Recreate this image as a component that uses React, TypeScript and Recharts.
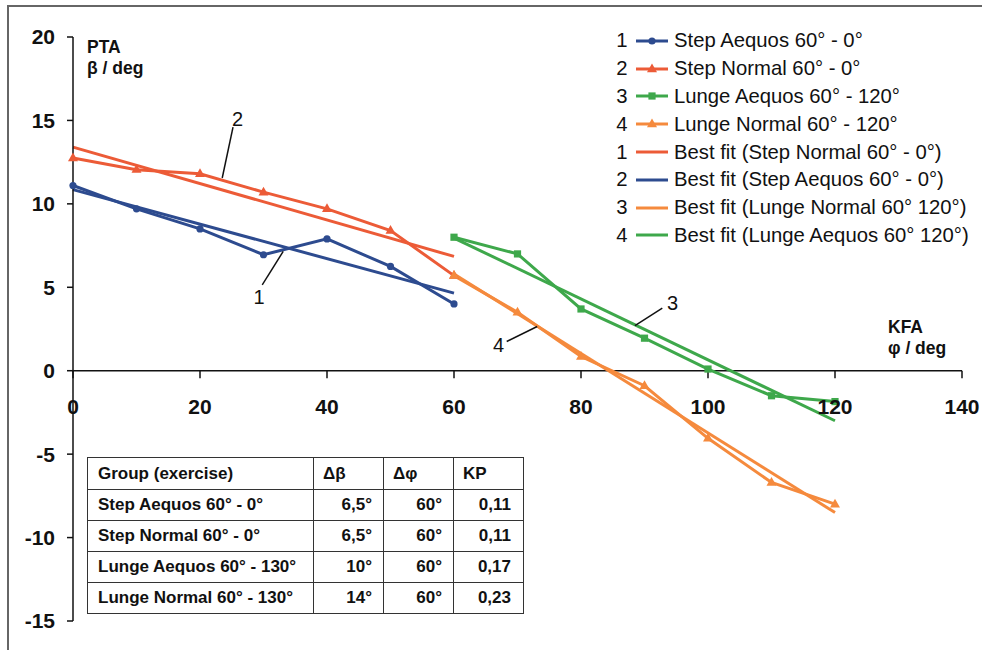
import React from 'react';
import { LineChart, Line, XAxis, YAxis, ReferenceLine, ReferenceDot } from 'recharts';

// x positions (KFA, deg)
const stepX = [0, 10, 20, 30, 40, 50, 60];
const lungeX = [60, 70, 80, 90, 100, 110, 120];

// PTA values (deg)
const stepAequos = [11.1, 9.7, 8.5, 6.95, 7.9, 6.25, 4.0];
const stepNormal = [12.75, 12.05, 11.8, 10.7, 9.7, 8.4, 5.7];
const lungeAequos = [8.0, 7.0, 3.7, 1.95, 0.1, -1.5, -1.85];
const lungeNormal = [5.7, 3.5, 0.85, -0.9, -4.05, -6.7, -8.0];

// best fit lines, end points only
const fitStepX = [0, 60];
const fitLungeX = [60, 120];
const fitStepNormal = [13.4, 6.85];
const fitStepAequos = [10.85, 4.65];
const fitLungeNormal = [5.8, -8.5];
const fitLungeAequos = [7.95, -3.0];

const xTicks = [0, 20, 40, 60, 80, 100, 120, 140];
const yTicks = [-15, -10, -5, 0, 5, 10, 15, 20];

const tableHead = ['Group (exercise)', 'Δβ', 'Δφ', 'KP'];
const tableGroups = ['Step Aequos 60° - 0°', 'Step Normal 60° - 0°', 'Lunge Aequos 60° - 130°', 'Lunge Normal 60° - 130°'];
const tableDBeta = ['6,5°', '6,5°', '10°', '14°'];
const tableDPhi = ['60°', '60°', '60°', '60°'];
const tableKP = ['0,11', '0,11', '0,17', '0,23'];

const BLUE = '#2d4b8f';
const RED = '#ec5b37';
const GREEN = '#3ea84b';
const ORANGE = '#f58a3d';

const toPts = (xs: number[], ys: number[]) => xs.map((x, i) => ({ x, y: ys[i] }));

type Shape = 'circle' | 'triangle' | 'square' | 'none';

const marker = (shape: Shape, cx: number, cy: number, color: string, key?: string | number) => {
  if (shape === 'circle') return <circle key={key} cx={cx} cy={cy} r={3.6} fill={color} />;
  if (shape === 'square') return <rect key={key} x={cx - 3.6} y={cy - 3.6} width={7.2} height={7.2} fill={color} />;
  if (shape === 'triangle')
    return <path key={key} d={`M${cx},${cy - 5.5} L${cx + 5},${cy + 3.2} L${cx - 5},${cy + 3.2} Z`} fill={color} />;
  return <g key={key} />;
};

const dotFn = (shape: Shape, color: string) => (p: any) => marker(shape, p.cx, p.cy, color, p.index);

const series = [
  { num: '1', name: 'Step Aequos 60° - 0°', data: toPts(stepX, stepAequos), color: BLUE, shape: 'circle' as Shape },
  { num: '2', name: 'Step Normal 60° - 0°', data: toPts(stepX, stepNormal), color: RED, shape: 'triangle' as Shape },
  { num: '3', name: 'Lunge Aequos 60° - 120°', data: toPts(lungeX, lungeAequos), color: GREEN, shape: 'square' as Shape },
  { num: '4', name: 'Lunge Normal 60° - 120°', data: toPts(lungeX, lungeNormal), color: ORANGE, shape: 'triangle' as Shape },
  { num: '1', name: 'Best fit (Step Normal 60° - 0°)', data: toPts(fitStepX, fitStepNormal), color: RED, shape: 'none' as Shape },
  { num: '2', name: 'Best fit (Step Aequos 60° - 0°)', data: toPts(fitStepX, fitStepAequos), color: BLUE, shape: 'none' as Shape },
  { num: '3', name: 'Best fit (Lunge Normal 60° 120°)', data: toPts(fitLungeX, fitLungeNormal), color: ORANGE, shape: 'none' as Shape },
  { num: '4', name: 'Best fit (Lunge Aequos 60° 120°)', data: toPts(fitLungeX, fitLungeAequos), color: GREEN, shape: 'none' as Shape },
];

// curve labels with leader lines (data coordinates)
const callouts = [
  { text: '2', tx: 25.9, ty: 15.1, from: { x: 25.2, y: 14.6 }, to: { x: 23.5, y: 11.55 } },
  { text: '1', tx: 29.3, ty: 4.4, from: { x: 29.8, y: 5.15 }, to: { x: 33.1, y: 7.15 } },
  { text: '3', tx: 94.4, ty: 4.05, from: { x: 92.8, y: 3.75 }, to: { x: 88.5, y: 2.7 } },
  { text: '4', tx: 67.0, ty: 1.55, from: { x: 68.3, y: 1.75 }, to: { x: 73.1, y: 2.65 } },
];

const font = 'Arial, "Liberation Sans", Helvetica, sans-serif';

const Legend8 = () => (
  <div style={{ position: 'absolute', left: 612, top: 27, fontFamily: font, fontSize: 20.3, color: '#111' }}>
    {series.map((s, i) => (
      <div key={i} style={{ height: 27.8, display: 'flex', alignItems: 'center', whiteSpace: 'nowrap' }}>
        <span style={{ width: 20, textAlign: 'center' }}>{s.num}</span>
        <svg width={36} height={14} style={{ margin: '0 4px 0 2px' }}>
          <line x1={2} y1={7} x2={34} y2={7} stroke={s.color} strokeWidth={3} />
          {marker(s.shape, 18, 7, s.color)}
        </svg>
        <span>{s.name}</span>
      </div>
    ))}
  </div>
);

const cell: React.CSSProperties = {
  border: '1.5px solid #333',
  height: 31,
  fontWeight: 'bold',
  boxSizing: 'border-box',
  whiteSpace: 'nowrap',
};
const colW = [226, 70, 70, 70];

const DataTable = () => (
  <table
    style={{
      position: 'absolute',
      left: 87,
      top: 457,
      width: 436,
      tableLayout: 'fixed',
      borderCollapse: 'collapse',
      fontFamily: font,
      fontSize: 17,
      color: '#111',
      background: '#fff',
    }}
  >
    <colgroup>
      {colW.map((w, i) => (
        <col key={i} style={{ width: w }} />
      ))}
    </colgroup>
    <tbody>
      <tr>
        {tableHead.map((h, i) => (
          <td key={i} style={{ ...cell, height: 32, textAlign: 'left', padding: i === 0 ? '0 0 0 10px' : '0 0 0 9px' }}>{h}</td>
        ))}
      </tr>
      {tableGroups.map((g, r) => (
        <tr key={r}>
          <td style={{ ...cell, textAlign: 'left', padding: '0 0 0 10px' }}>{g}</td>
          <td style={{ ...cell, textAlign: 'right', paddingRight: 11 }}>{tableDBeta[r]}</td>
          <td style={{ ...cell, textAlign: 'right', paddingRight: 11 }}>{tableDPhi[r]}</td>
          <td style={{ ...cell, textAlign: 'right', paddingRight: 12 }}>{tableKP[r]}</td>
        </tr>
      ))}
    </tbody>
  </table>
);

const axisTitle: React.CSSProperties = {
  position: 'absolute',
  fontFamily: font,
  fontWeight: 'bold',
  fontSize: 17.5,
  lineHeight: '21px',
  color: '#111',
};

export default function App() {
  return (
    <div style={{ position: 'absolute', left: 0, top: 0, width: 982, height: 650, background: '#fff', overflow: 'hidden' }}>
      <div style={{ position: 'absolute', left: 7, top: 5, width: 990, height: 700, borderTop: '2px solid #666', borderLeft: '2px solid #666' }} />
      <LineChart width={982} height={650} margin={{ top: 37, right: 20, bottom: 29, left: 13 }}>
        <XAxis type="number" dataKey="x" domain={[0, 140]} ticks={xTicks} hide allowDuplicatedCategory={false} />
        <YAxis
          type="number"
          domain={[-15, 20]}
          ticks={yTicks}
          width={60}
          axisLine={{ stroke: '#111', strokeWidth: 1.5 }}
          tickLine={{ stroke: '#111', strokeWidth: 1.5 }}
          tickSize={6}
          tickMargin={12}
          tick={{ fill: '#111', fontSize: 21, fontWeight: 'bold', fontFamily: font }}
        />
        <ReferenceLine y={0} stroke="#111" strokeWidth={1.5} />
        {xTicks.map((t) => (
          <ReferenceLine
            key={'xt' + t}
            segment={[{ x: t, y: 0 }, { x: t, y: -0.45 }]}
            stroke="#111"
            strokeWidth={1.5}
          />
        ))}
        {xTicks.map((t) => (
          <ReferenceDot
            key={'xl' + t}
            x={t}
            y={0}
            r={0}
            stroke="none"
            label={{ value: t, position: 'bottom', offset: 28, fill: '#111', fontSize: 21, fontWeight: 'bold', fontFamily: font }}
          />
        ))}
        {series.map((s, i) => (
          <Line
            key={i}
            data={s.data}
            dataKey="y"
            name={s.name}
            type="linear"
            stroke={s.color}
            strokeWidth={3}
            dot={s.shape === 'none' ? false : dotFn(s.shape, s.color)}
            activeDot={false}
            isAnimationActive={false}
          />
        ))}
        {callouts.map((c, i) => (
          <ReferenceLine key={'cl' + i} segment={[c.from, c.to]} stroke="#111" strokeWidth={1.5} />
        ))}
        {callouts.map((c, i) => (
          <ReferenceDot
            key={'ct' + i}
            x={c.tx}
            y={c.ty}
            r={0}
            stroke="none"
            label={{ value: c.text, position: 'center', fill: '#111', fontSize: 20, fontFamily: font }}
          />
        ))}
      </LineChart>
      <div style={{ ...axisTitle, left: 87, top: 37 }}>
        PTA<br />β / deg
      </div>
      <div style={{ ...axisTitle, left: 888, top: 317 }}>
        KFA<br />φ / deg
      </div>
      <Legend8 />
      <DataTable />
    </div>
  );
}
